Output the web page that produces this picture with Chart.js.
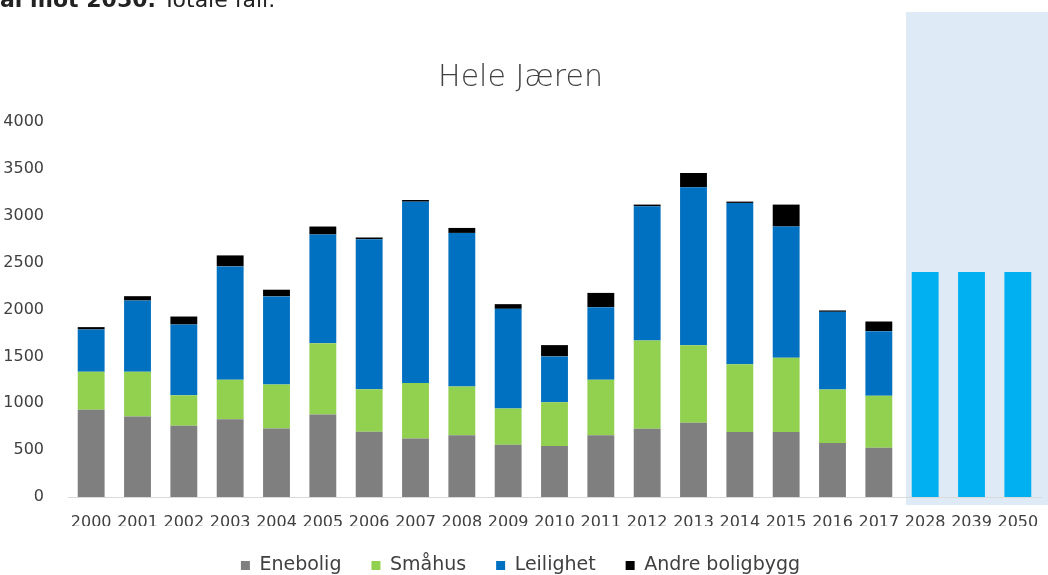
<!DOCTYPE html>
<html>
<head>
<meta charset="utf-8">
<script src="https://cdn.jsdelivr.net/npm/chart.js@4.4.1/dist/chart.umd.min.js"></script>
<style>
    html, body { margin: 0; padding: 0; background: #fff; overflow: hidden; }
    #wrap { position: relative; width: 1048px; height: 575px; overflow: hidden; }
    #lead { position: absolute; left: 0; top: -11px; font-family: 'DejaVu Sans', sans-serif; font-size: 22px; line-height: 1; color: #222; white-space: nowrap; }
    #lead b { font-weight: bold; }
    #box { position: absolute; left: 0; top: 0; width: 1048px; height: 585px; }
</style>
</head>
<body>
<div id="wrap">
    <div id="box"><canvas id="chart"></canvas></div>
    <div id="lead"><b>al mot 2050.</b> Totale fall.</div>
</div>
<script>
var years = ['2000', '2001', '2002', '2003', '2004', '2005', '2006', '2007', '2008', '2009', '2010',
             '2011', '2012', '2013', '2014', '2015', '2016', '2017', '2028', '2039', '2050'];
var enebolig  = [930, 860, 760, 830, 730, 880, 695, 625, 660, 557, 545, 658, 728, 792, 693, 693, 576, 525, null, null, null];
var smahus    = [405, 475, 325, 420, 470, 760, 455, 590, 520, 388, 467, 592, 942, 828, 724, 792, 572, 555, null, null, null];
var leilighet = [452, 761, 755, 1210, 940, 1160, 1600, 1935, 1637, 1062, 488, 775, 1431, 1684, 1720, 1400, 827, 689, null, null, null];
var andre     = [25, 46, 85, 117, 71, 85, 18, 18, 53, 50, 120, 152, 18, 152, 14, 234, 15, 103, null, null, null];
var fremskrevet = [null, null, null, null, null, null, null, null, null, null, null,
                   null, null, null, null, null, null, null, 2400, 2400, 2400];
var yTicks = [0, 500, 1000, 1500, 2000, 2500, 3000, 3500, 4000];

// light blue panel behind the projected years
var projectionBand = {
    id: 'projectionBand',
    beforeDraw: function(chart) {
        var x = chart.scales.x;
        var left = (x.getPixelForValue(17) + x.getPixelForValue(18)) / 2 + 4;
        var ctx = chart.ctx;
        ctx.save();
        ctx.fillStyle = '#deeaf6';
        ctx.fillRect(left, 12, chart.width - left, chart.chartArea.bottom + 8 - 12);
        ctx.restore();
    }
};

var ctx = document.getElementById('chart').getContext('2d');
new Chart(ctx, {
    type: 'bar',
    data: {
        labels: years,
        datasets: [
            { label: 'Enebolig', data: enebolig, backgroundColor: '#7f7f7f' },
            { label: 'Småhus', data: smahus, backgroundColor: '#92d050' },
            { label: 'Leilighet', data: leilighet, backgroundColor: '#0070c0' },
            { label: 'Andre boligbygg', data: andre, backgroundColor: '#000000' },
            { label: 'Fremskrevet', data: fremskrevet, backgroundColor: '#00b0f0' }
        ]
    },
    plugins: [projectionBand],
    options: {
        responsive: true,
        maintainAspectRatio: false,
        animation: false,
        datasets: { bar: { categoryPercentage: 0.58, barPercentage: 1 } },
        layout: { padding: { top: 60, right: 7, left: 0, bottom: 0 } },
        plugins: {
            title: {
                display: true,
                text: 'Hele Jæren',
                color: '#404040',
                font: { family: 'DejaVu Sans', size: 30, weight: '300' },
                padding: { top: 0, bottom: 26 }
            },
            legend: {
                position: 'bottom',
                labels: {
                    color: '#404040',
                    font: { family: 'DejaVu Sans', size: 19 },
                    boxWidth: 9,
                    boxHeight: 9,
                    padding: 30,
                    filter: function(item) { return item.datasetIndex < 4; }
                }
            },
            tooltip: { enabled: false }
        },
        scales: {
            x: {
                stacked: true,
                afterFit: function(scale) { scale.height = 29; },
                grid: { display: false },
                border: { display: true, color: '#d9d9d9', width: 1 },
                ticks: {
                    color: '#404040',
                    font: { family: 'DejaVu Sans', size: 16 },
                    autoSkip: false,
                    maxRotation: 0,
                    minRotation: 0,
                    padding: 8
                }
            },
            y: {
                stacked: true,
                min: 0,
                max: 4000,
                afterFit: function(scale) { scale.width = 68; },
                afterBuildTicks: function(scale) {
                    scale.ticks = yTicks.map(function(v) { return { value: v }; });
                },
                grid: { display: false },
                border: { display: false },
                ticks: {
                    color: '#404040',
                    font: { family: 'DejaVu Sans', size: 16 },
                    padding: 16,
                    callback: function(v) { return String(v); }
                }
            }
        }
    }
});
</script>
</body>
</html>
